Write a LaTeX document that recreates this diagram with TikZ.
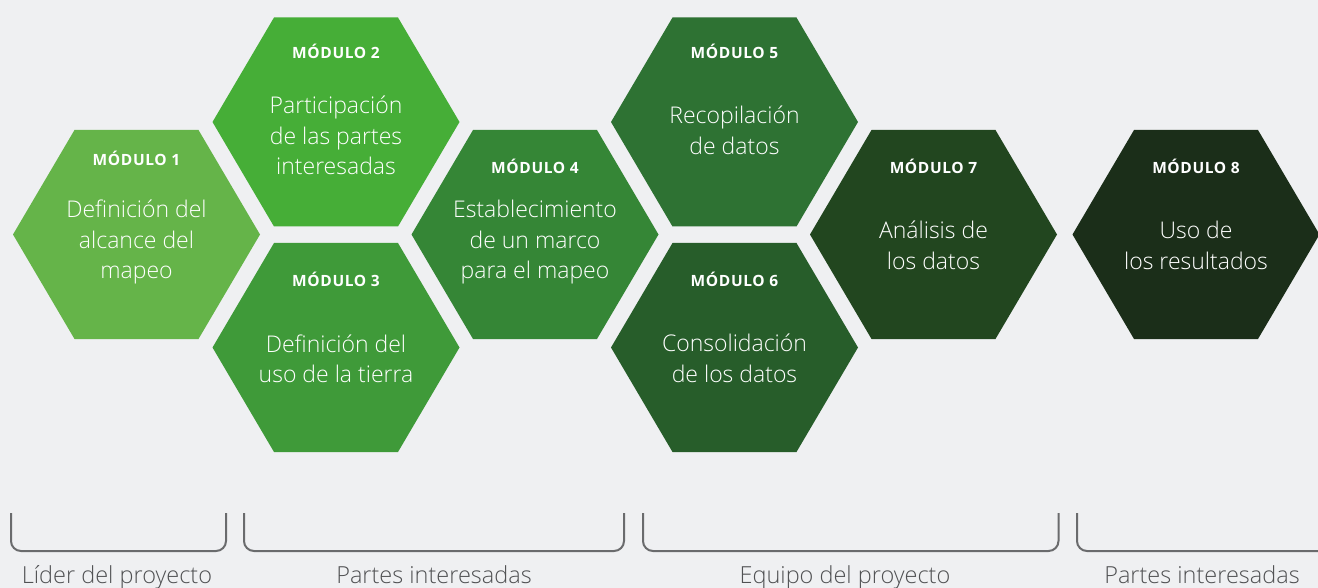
\documentclass[tikz,border=0pt]{standalone}
\usepackage{fontspec}
\setmainfont{Open Sans}
\newfontfamily\lightfont{Open Sans Light}
\newfontfamily\modfont[LetterSpace=4]{Open Sans}
\definecolor{bg}{HTML}{EFF0F2}
\definecolor{hexA}{HTML}{65B449}
\definecolor{hexB}{HTML}{46AE37}
\definecolor{hexC}{HTML}{3F9A39}
\definecolor{hexD}{HTML}{358636}
\definecolor{hexE}{HTML}{2E7233}
\definecolor{hexF}{HTML}{275D2A}
\definecolor{hexG}{HTML}{22461F}
\definecolor{hexH}{HTML}{1B2E19}
\definecolor{linegray}{HTML}{6A6B6D}
\definecolor{labelgray}{HTML}{505153}
\newcommand\hexfill[3]{%
  \fill[#3] ([shift={(#1,#2)}]-123.5,0) -- ([shift={(#1,#2)}]-62,-104.5) --
    ([shift={(#1,#2)}]62,-104.5) -- ([shift={(#1,#2)}]123.5,0) --
    ([shift={(#1,#2)}]62,104.5) -- ([shift={(#1,#2)}]-62,104.5) -- cycle;}
\begin{document}
\begin{tikzpicture}[x=1pt,y=-1pt,
  modlabel/.style={text=white,inner sep=0pt,font=\modfont\fontsize{15.5}{18}\selectfont\bfseries},
  bodytext/.style={text=white,align=center,inner sep=0pt,font=\lightfont\fontsize{23}{30.5}\selectfont},
  grouplabel/.style={text=labelgray,anchor=base,inner sep=0pt,font=\lightfont\fontsize{23.5}{27}\selectfont},
  bracketline/.style={draw=linegray,line width=2pt,rounded corners=10pt}]
\useasboundingbox[fill=bg] (0,0) rectangle (1318,588);
% hexagons
\hexfill{136.5}{234.5}{hexA}
\hexfill{336}{122}{hexB}
\hexfill{336}{347.5}{hexC}
\hexfill{535}{234.5}{hexD}
\hexfill{734.5}{122}{hexE}
\hexfill{734.5}{347.5}{hexF}
\hexfill{933.5}{234.5}{hexG}
\hexfill{1196}{234.5}{hexH}
% module labels
\node[modlabel] (m1) at (136.5,158) {MÓDULO 1};
\node[modlabel] (m2) at (336,51) {MÓDULO 2};
\node[modlabel] (m3) at (336,279) {MÓDULO 3};
\node[modlabel] (m4) at (535,166) {MÓDULO 4};
\node[modlabel] (m5) at (734.5,51) {MÓDULO 5};
\node[modlabel] (m6) at (734.5,279) {MÓDULO 6};
\node[modlabel] (m7) at (933.5,166) {MÓDULO 7};
\node[modlabel] (m8) at (1196,166) {MÓDULO 8};
% body texts
\node[bodytext] (t1) at (136.5,242) {Definición del\\alcance del\\mapeo};
\node[bodytext] (t2) at (336,135.5) {Participación\\de las partes\\interesadas};
\node[bodytext] (t3) at (336,359) {Definición del\\uso de la tierra};
\node[bodytext] (t4) at (535,242.5) {Establecimiento\\de un marco\\para el mapeo};
\node[bodytext] (t5) at (734.5,130.5) {Recopilación\\de datos};
\node[bodytext] (t6) at (734.5,358.5) {Consolidación\\de los datos};
\node[bodytext] (t7) at (933.5,245.5) {Análisis de\\los datos};
\node[bodytext] (t8) at (1196,245.5) {Uso de\\los resultados};
% brackets
\coordinate (bline) at (0,551);
\coordinate (b1a) at (11,513);   \coordinate (b1b) at (226,513);
\coordinate (b2a) at (244,513);  \coordinate (b2b) at (624,513);
\coordinate (b3a) at (643,513);  \coordinate (b3b) at (1058.5,513);
\coordinate (b4a) at (1077,513); \coordinate (b4b) at (1340,513);
\draw[bracketline] (b1a) -- (b1a |- bline) -- (b1b |- bline) -- (b1b);
\draw[bracketline] (b2a) -- (b2a |- bline) -- (b2b |- bline) -- (b2b);
\draw[bracketline] (b3a) -- (b3a |- bline) -- (b3b |- bline) -- (b3b);
\draw[bracketline] (b4a) -- (b4a |- bline) -- (b4b |- bline) -- (b4b);
% group labels
\node[grouplabel] (g1) at (117,583) {Líder del proyecto};
\node[grouplabel] (g2) at (434,583) {Partes interesadas};
\node[grouplabel] (g3) at (845,583) {Equipo del proyecto};
\node[grouplabel] (g4) at (1202,583) {Partes interesadas};
\end{tikzpicture}
\end{document}
